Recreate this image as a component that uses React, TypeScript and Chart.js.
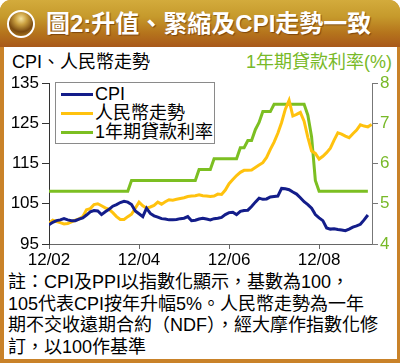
import React, { useEffect, useRef } from "react";
import { Chart, registerables } from "chart.js";
Chart.register(...registerables);

// x = months since Dec 2002
const xTickMonths = [0, 24, 48, 72];
const xTickLabels = ["12/02", "12/04", "12/06", "12/08"];
const leftTicks = [95, 105, 115, 125, 135];
const rightTicks = [4, 5, 6, 7, 8];

const cpi = [
  99.8, 100.4, 100.8, 101.0, 101.3, 101.0, 100.8, 100.8, 101.2, 101.5,
  102.2, 103.0, 103.3, 103.2, 102.3, 103.0, 103.6, 104.4, 104.8, 105.3,
  105.6, 105.4, 104.8, 103.2, 102.5, 101.8, 103.9, 102.6, 102.0, 101.7,
  101.3, 101.2, 101.0, 101.0, 101.1, 101.3, 101.4, 101.8, 100.8, 100.9,
  101.2, 101.4, 101.2, 101.0, 101.3, 101.4, 101.6, 102.3, 102.8, 102.9,
  102.3, 103.1, 103.3, 103.4, 104.3, 105.4, 106.4, 106.1, 106.2, 106.7,
  106.8, 106.9, 108.8, 108.7, 108.5, 107.9, 107.4, 106.5, 105.5, 104.8,
  103.9, 102.3, 101.5, 100.8, 99.0, 98.7, 98.8, 98.6, 98.5, 98.3,
  98.7, 99.2, 99.5, 99.9, 101.0, 102.2,
];

const rmb = [
  100.2, 100.9, 100.6, 100.3, 100.0, 100.1, 100.5, 100.9, 101.2, 101.8,
  103.5, 103.8, 104.8, 105.0, 104.5, 104.0, 103.6, 102.8, 101.8, 101.1,
  101.1, 101.8, 102.4, 103.9, 105.4, 104.5, 103.9, 104.2, 104.6, 105.4,
  104.9, 105.5, 106.0, 105.9, 106.1, 106.3, 106.5, 106.8, 106.9, 107.0,
  107.2, 107.0, 106.9, 106.8, 106.9, 107.4, 107.3, 108.4, 110.0, 111.0,
  112.0, 112.8, 113.3, 113.3, 113.4, 114.0, 114.6, 115.2, 116.5, 118.5,
  120.3, 122.5, 125.2, 128.5, 130.7, 126.8, 127.2, 127.7, 125.5, 121.5,
  118.1, 117.5, 116.1, 116.8, 117.7, 118.8, 120.8, 122.6, 122.3, 121.8,
  121.4, 122.4, 123.3, 124.6, 124.3, 124.1, 124.7,
];

const loanRate = [
  5.31, 5.31, 5.31, 5.31, 5.31, 5.31, 5.31, 5.31, 5.31, 5.31,
  5.31, 5.31, 5.31, 5.31, 5.31, 5.31, 5.31, 5.31, 5.31, 5.31,
  5.31, 5.31, 5.58, 5.58, 5.58, 5.58, 5.58, 5.58, 5.58, 5.58,
  5.58, 5.58, 5.58, 5.58, 5.58, 5.58, 5.58, 5.58, 5.58, 5.58,
  5.85, 5.85, 5.85, 5.85, 6.12, 6.12, 6.12, 6.12, 6.12, 6.12,
  6.12, 6.39, 6.39, 6.57, 6.57, 6.84, 7.02, 7.29, 7.29, 7.29,
  7.47, 7.47, 7.47, 7.47, 7.47, 7.47, 7.47, 7.47, 7.47, 7.2,
  6.66, 5.58, 5.31, 5.31, 5.31, 5.31, 5.31, 5.31, 5.31, 5.31,
  5.31, 5.31, 5.31, 5.31, 5.31, 5.31,
];

const BLUE = "#131d8a";
const ORANGE = "#ffc20e";
const GREEN = "#7cbf22";
const GREEN_TEXT = "#78b928";
const FONT = "'Liberation Sans', Arial, 'Noto Sans CJK TC', sans-serif";
const FRAME = "#c98229";

const legendItems = [
  { label: "CPI", color: BLUE },
  { label: "人民幣走勢", color: ORANGE },
  { label: "1年期貸款利率", color: GREEN },
];

const noteLines = [
  "註：CPI及PPI以指數化顯示，基數為100，",
  "105代表CPI按年升幅5%。人民幣走勢為一年",
  "期不交收遠期合約（NDF），經大摩作指數化修",
  "訂，以100作基準",
];

export default function App() {
  const ref = useRef<HTMLCanvasElement>(null);

  useEffect(() => {
    const tickFont = { family: FONT, size: 17 };
    const chart = new Chart(ref.current!, {
      type: "line",
      data: {
        datasets: [
          {
            label: "CPI",
            data: cpi.map((v, i) => ({ x: i, y: v })),
            borderColor: BLUE,
            borderWidth: 3,
            pointRadius: 0,
            yAxisID: "y",
            order: 1,
          },
          {
            label: "人民幣走勢",
            data: rmb.map((v, i) => ({ x: i, y: v })),
            borderColor: ORANGE,
            borderWidth: 3,
            pointRadius: 0,
            yAxisID: "y",
            order: 2,
          },
          {
            label: "1年期貸款利率",
            data: loanRate.map((v, i) => ({ x: i, y: v })),
            borderColor: GREEN,
            borderWidth: 3,
            pointRadius: 0,
            yAxisID: "y2",
            order: 3,
          },
        ],
      },
      options: {
        animation: false,
        responsive: false,
        maintainAspectRatio: false,
        layout: { padding: { top: 83, left: 0, right: 0, bottom: 0 } },
        plugins: { legend: { display: false }, tooltip: { enabled: false } },
        scales: {
          x: {
            type: "linear",
            min: 0,
            max: 86.1,
            afterBuildTicks: (s: any) => {
              s.ticks = xTickMonths.map((v) => ({ value: v }));
            },
            afterFit: (s: any) => {
              s.height = 26;
            },
            ticks: {
              callback: (v: any) => xTickLabels[xTickMonths.indexOf(v)] ?? "",
              font: tickFont,
              color: "#000",
              padding: 1,
              maxRotation: 0,
              autoSkip: false,
            },
            grid: { drawOnChartArea: false, tickLength: 5, color: "#666" },
            border: { color: "#666", width: 1 },
          },
          y: {
            position: "left",
            min: 95,
            max: 135,
            afterBuildTicks: (s: any) => {
              s.ticks = leftTicks.map((v) => ({ value: v }));
            },
            afterFit: (s: any) => {
              s.width = 49;
            },
            ticks: { font: tickFont, color: "#000", padding: 3 },
            grid: { drawOnChartArea: false, tickLength: 7, color: "#333" },
            border: { color: "#333", width: 1 },
          },
          y2: {
            position: "right",
            min: 4,
            max: 8,
            afterBuildTicks: (s: any) => {
              s.ticks = rightTicks.map((v) => ({ value: v }));
            },
            afterFit: (s: any) => {
              s.width = 28;
            },
            ticks: { font: tickFont, color: GREEN_TEXT, padding: 2 },
            grid: { drawOnChartArea: false, tickLength: 6, color: "#777" },
            border: { color: "#777", width: 1 },
          },
        },
      },
    } as any);
    return () => chart.destroy();
  }, []);

  return (
    <div
      style={{
        position: "absolute",
        left: 0,
        top: 0,
        width: 400,
        height: 363,
        background: FRAME,
        borderRadius: "11px 11px 0 0",
        overflow: "hidden",
        fontFamily: FONT,
      }}
    >
      <div
        style={{
          position: "absolute",
          left: 0,
          top: 0,
          width: 400,
          height: 47,
          background:
            "linear-gradient(to bottom, #d3ab3c 0%, #c69a2c 35%, #b5741c 70%, #a8581a 100%)",
        }}
      />
      <div
        style={{
          position: "absolute",
          left: 7,
          top: 10,
          width: 24,
          height: 24,
          borderRadius: "50%",
          border: "2px solid #fff",
          background:
            "radial-gradient(circle at 50% 28%, #f6e3a0 0%, #caa040 28%, #7a4a10 62%, #a8741c 85%, #d0a030 100%)",
        }}
      />
      <div
        style={{
          position: "absolute",
          left: 46,
          top: 0,
          height: 48,
          lineHeight: "48px",
          color: "#fff",
          fontWeight: "bold",
          fontSize: 24,
          whiteSpace: "nowrap",
          textShadow: "1px 1px 1px rgba(90,40,0,0.6)",
        }}
      >
        圖2:升值、緊縮及CPI走勢一致
      </div>
      <div
        style={{
          position: "absolute",
          left: 4,
          top: 47,
          width: 393,
          height: 312,
          background: "#fff",
        }}
      />
      <div
        style={{
          position: "absolute",
          left: 12,
          top: 51,
          fontSize: 18,
          lineHeight: "22px",
          color: "#000",
          whiteSpace: "nowrap",
        }}
      >
        CPI、人民幣走勢
      </div>
      <div
        style={{
          position: "absolute",
          right: 8,
          top: 51,
          fontSize: 18,
          lineHeight: "22px",
          color: GREEN_TEXT,
          whiteSpace: "nowrap",
        }}
      >
        1年期貸款利率(%)
      </div>
      <canvas
        ref={ref}
        width={400}
        height={270}
        style={{ position: "absolute", left: 0, top: 0, width: 400, height: 270 }}
      />
      <div
        style={{
          position: "absolute",
          left: 55,
          top: 82,
          width: 158,
          height: 60,
          border: "1px solid #8a8a8a",
          background: "#fff",
        }}
      >
        {legendItems.map((it, i) => (
          <div key={it.label}>
            <div
              style={{
                position: "absolute",
                left: 5,
                top: 10 + i * 19,
                width: 32,
                height: 3,
                background: it.color,
              }}
            />
            <div
              style={{
                position: "absolute",
                left: 39,
                top: 0 + i * 19,
                fontSize: 18,
                lineHeight: "22px",
                whiteSpace: "nowrap",
                color: "#000",
              }}
            >
              {it.label}
            </div>
          </div>
        ))}
      </div>
      <div
        style={{
          position: "absolute",
          left: 8,
          top: 272,
          fontSize: 18,
          lineHeight: "21.7px",
          color: "#000",
          whiteSpace: "nowrap",
        }}
      >
        {noteLines.map((l) => (
          <div key={l}>{l}</div>
        ))}
      </div>
    </div>
  );
}
